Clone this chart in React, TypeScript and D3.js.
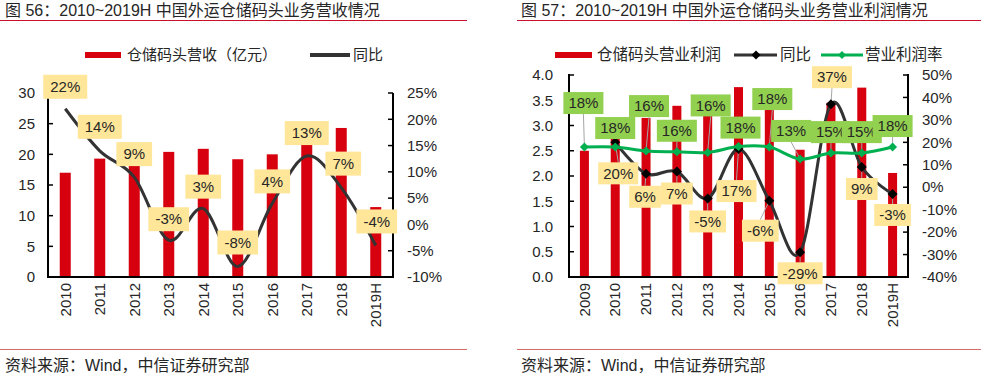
import React from 'react';
import * as d3 from 'd3';

// ---------- data ----------
const leftCats = ['2010', '2011', '2012', '2013', '2014', '2015', '2016', '2017', '2018', '2019H'];
const leftRevenue = [17.0, 19.3, 21.1, 20.4, 20.9, 19.2, 20.0, 22.7, 24.3, 11.4];
const leftYoY = [0.22, 0.14, 0.09, -0.03, 0.03, -0.08, 0.04, 0.13, 0.07, -0.04];
const leftTicksL = [0, 5, 10, 15, 20, 25, 30];
const leftTicksR = [-0.1, -0.05, 0, 0.05, 0.1, 0.15, 0.2, 0.25];

const rightCats = ['2009', '2010', '2011', '2012', '2013', '2014', '2015', '2016', '2017', '2018', '2019H'];
const rightProfit = [2.5, 3.0, 3.15, 3.39, 3.2, 3.76, 3.55, 2.52, 3.45, 3.75, 2.06];
const rightYoY: (number | null)[] = [null, 0.2, 0.06, 0.07, -0.05, 0.17, -0.06, -0.29, 0.37, 0.09, -0.03];
const rightMargin = [0.179, 0.179, 0.161, 0.158, 0.155, 0.181, 0.179, 0.126, 0.152, 0.152, 0.179];
const rightTicksL = [0, 0.5, 1, 1.5, 2, 2.5, 3, 3.5, 4];
const rightTicksR = [-0.4, -0.3, -0.2, -0.1, 0, 0.1, 0.2, 0.3, 0.4, 0.5];

// label placement offsets (layout only)
const leftLabelOff = [[0, -22], [0, -24], [0, -23], [0, -21], [0, -22], [0, -24], [0, -22], [0, -23], [2, -24], [1, -24]];
const greenLabelOff = [[-1, -44], [0, -19], [3, -45], [0, -21], [3, -47], [2, -19], [3, -48], [-9, -28], [0, -21], [0, -21], [0, -21]];
const blackLabelOff = [[0, 0], [3, 31], [-1, 23], [0, 22], [0, 23], [-2, 42], [-9, 30], [0, 21], [1, -27], [0, 22], [0, 21]];

const FONT = "'Liberation Sans', Arial, 'Noto Sans CJK SC', sans-serif";
const RED = '#D7000F';
const YELLOW = '#FFE699';
const GREEN_BOX = '#92D050';
const GREEN = '#00B050';
const TXT = '#262626';

const pctFmt = d3.format('.0%');
const pct = (v: number) => pctFmt(v).replace('\u2212', '-');

function textW(s: string, fs: number) {
  let w = 0;
  for (const c of s) {
    if (c === '%') w += 0.889;
    else if (c === '-') w += 0.333;
    else if (c === '.') w += 0.278;
    else w += 0.556;
  }
  return w * fs;
}

function Label({ x, y, text, fill, fs, pad, h }: any) {
  const w = textW(text, fs) + pad;
  return (
    <g>
      <rect x={x - w / 2} y={y - h / 2} width={w} height={h} fill={fill} />
      <text x={x} y={y} dy="0.35em" textAnchor="middle" fontSize={fs} fill={TXT}>
        {text}
      </text>
    </g>
  );
}

function diamond(cx: number, cy: number, r: number) {
  return `M${cx},${cy - r}L${cx + r},${cy}L${cx},${cy + r}L${cx - r},${cy}Z`;
}

function LeftChart() {
  const x = d3.scaleBand<string>().domain(leftCats).range([48, 393]);
  const yL = d3.scaleLinear().domain([0, 30]).range([277, 93]);
  const yR = d3.scaleLinear().domain([-0.1, 0.25]).range([277, 93]);
  const cx = (c: string) => (x(c) as number) + x.bandwidth() / 2;
  const line = d3
    .line<number>()
    .x((_, i) => cx(leftCats[i]))
    .y((d) => yR(d))
    .curve(d3.curveCatmullRom.alpha(0));
  const barW = 11;
  return (
    <g>
      <text x={5} y={16} fontSize={16} fill={TXT}>图 56：2010~2019H 中国外运仓储码头业务营收情况</text>
      <line x1={0} x2={467} y1={20.5} y2={20.5} stroke="#C8102E" strokeWidth={1} />
      {/* legend */}
      <rect x={85} y={52} width={36} height={6} fill={RED} />
      <text x={127} y={55} dy="0.35em" fontSize={15} fill={TXT}>仓储码头营收（亿元）</text>
      <line x1={310} x2={350} y1={55} y2={55} stroke="#333" strokeWidth={4} />
      <text x={353} y={55} dy="0.35em" fontSize={15} fill={TXT}>同比</text>
      {/* bars */}
      {leftRevenue.map((v, i) => (
        <rect key={i} x={cx(leftCats[i]) - barW / 2} y={yL(v)} width={barW} height={yL(0) - yL(v)} fill={RED} />
      ))}
      {/* line */}
      <path d={line(leftYoY) || ''} fill="none" stroke="#333" strokeWidth={3} />
      {/* axes */}
      <line x1={48} x2={48} y1={93} y2={278} stroke="#000" strokeWidth={2} />
      <line x1={393} x2={393} y1={93} y2={278} stroke="#000" strokeWidth={2} />
      <line x1={47} x2={394} y1={277} y2={277} stroke="#000" strokeWidth={2} />
      {leftTicksL.map((t) => (
        <g key={t}>
          <line x1={48} x2={53} y1={yL(t)} y2={yL(t)} stroke="#000" strokeWidth={1.5} />
          <text x={35} y={yL(t)} dy="0.35em" textAnchor="end" fontSize={15} fill={TXT}>{t}</text>
        </g>
      ))}
      {leftTicksR.map((t) => (
        <g key={t}>
          <line x1={388} x2={393} y1={yR(t)} y2={yR(t)} stroke="#000" strokeWidth={1.5} />
          <text x={407} y={yR(t)} dy="0.35em" fontSize={15} fill={TXT}>{pct(t)}</text>
        </g>
      ))}
      {leftCats.map((c) => (
        <text key={c} transform={`translate(${cx(c)},283) rotate(-90)`} dy="0.35em" textAnchor="end" fontSize={15} fill={TXT}>{c}</text>
      ))}
      {/* labels */}
      {leftYoY.map((v, i) => (
        <Label key={i} x={cx(leftCats[i]) + leftLabelOff[i][0]} y={yR(v) + leftLabelOff[i][1]} text={pct(v)} fill={YELLOW} fs={15} pad={14} h={24} />
      ))}
      {/* source */}
      <line x1={0} x2={467} y1={349.5} y2={349.5} stroke="#D46A6A" strokeWidth={1} />
      <text x={5} y={365} dy="0.35em" fontSize={16} fill={TXT}>资料来源：Wind，中信证券研究部</text>
    </g>
  );
}

function RightChart() {
  const x = d3.scaleBand<string>().domain(rightCats).range([569, 908]);
  const yL = d3.scaleLinear().domain([0, 4]).range([277, 75]);
  const yR = d3.scaleLinear().domain([-0.4, 0.5]).range([277, 75]);
  const cx = (c: string) => (x(c) as number) + x.bandwidth() / 2;
  const curve = d3.curveCatmullRom.alpha(0);
  const yoyLine = d3
    .line<number | null>()
    .defined((d) => d !== null)
    .x((_, i) => cx(rightCats[i]))
    .y((d) => yR(d as number))
    .curve(curve);
  const marginLine = d3
    .line<number>()
    .x((_, i) => cx(rightCats[i]))
    .y((d) => yR(d))
    .curve(curve);
  const barW = 9;
  const leader = (px: number, py: number, lx: number, ly: number, h: number) => {
    const edge = ly < py ? ly + h / 2 : ly - h / 2;
    if (Math.abs(py - edge) < 9) return null;
    return <line x1={lx} y1={edge} x2={px} y2={py} stroke="#A6A6A6" strokeWidth={1} />;
  };
  return (
    <g>
      <text x={521} y={16} fontSize={16} fill={TXT}>图 57：2010~2019H 中国外运仓储码头业务营业利润情况</text>
      <line x1={517} x2={981} y1={20.5} y2={20.5} stroke="#C8102E" strokeWidth={1} />
      {/* legend */}
      <rect x={555} y={52} width={37} height={6} fill={RED} />
      <text x={597} y={55} dy="0.35em" fontSize={15.5} fill={TXT}>仓储码头营业利润</text>
      <line x1={734} x2={777} y1={55} y2={55} stroke="#333" strokeWidth={3} />
      <path d={diamond(756, 55, 4.5)} fill="#000" />
      <text x={780} y={55} dy="0.35em" fontSize={15.5} fill={TXT}>同比</text>
      <line x1={821} x2={863} y1={55} y2={55} stroke={GREEN} strokeWidth={3} />
      <path d={diamond(842, 55, 4)} fill={GREEN} />
      <text x={865} y={55} dy="0.35em" fontSize={15.5} fill={TXT}>营业利润率</text>
      {/* bars */}
      {rightProfit.map((v, i) => (
        <rect key={i} x={cx(rightCats[i]) - barW / 2} y={yL(v)} width={barW} height={yL(0) - yL(v)} fill={RED} />
      ))}
      {/* leader lines */}
      {rightMargin.map((v, i) =>
        <g key={'gl' + i}>{leader(cx(rightCats[i]), yR(v), cx(rightCats[i]) + greenLabelOff[i][0], yR(v) + greenLabelOff[i][1], 22)}</g>
      )}
      {rightYoY.map((v, i) =>
        v === null ? null : <g key={'bl' + i}>{leader(cx(rightCats[i]), yR(v), cx(rightCats[i]) + blackLabelOff[i][0], yR(v) + blackLabelOff[i][1], 22)}</g>
      )}
      {/* lines */}
      <path d={yoyLine(rightYoY) || ''} fill="none" stroke="#333" strokeWidth={3} />
      {rightYoY.map((v, i) => (v === null ? null : <path key={'bd' + i} d={diamond(cx(rightCats[i]), yR(v), 5)} fill="#000" />))}
      <path d={marginLine(rightMargin) || ''} fill="none" stroke={GREEN} strokeWidth={3} />
      {rightMargin.map((v, i) => (
        <path key={'gd' + i} d={diamond(cx(rightCats[i]), yR(v), 4.5)} fill={GREEN} />
      ))}
      {/* axes */}
      <line x1={569} x2={569} y1={74} y2={278} stroke="#000" strokeWidth={2} />
      <line x1={908} x2={908} y1={74} y2={278} stroke="#000" strokeWidth={2} />
      <line x1={568} x2={909} y1={277} y2={277} stroke="#000" strokeWidth={2} />
      {rightTicksL.map((t) => (
        <g key={t}>
          <line x1={569} x2={574} y1={yL(t)} y2={yL(t)} stroke="#000" strokeWidth={1.5} />
          <text x={553} y={yL(t)} dy="0.35em" textAnchor="end" fontSize={15} fill={TXT}>{d3.format('.1f')(t)}</text>
        </g>
      ))}
      {rightTicksR.map((t) => (
        <g key={t}>
          <line x1={903} x2={908} y1={yR(t)} y2={yR(t)} stroke="#000" strokeWidth={1.5} />
          <text x={922} y={yR(t)} dy="0.35em" fontSize={15} fill={TXT}>{pct(t)}</text>
        </g>
      ))}
      {rightCats.map((c) => (
        <text key={c} transform={`translate(${cx(c)},283) rotate(-90)`} dy="0.35em" textAnchor="end" fontSize={15} fill={TXT}>{c}</text>
      ))}
      {/* labels */}
      {rightMargin.map((v, i) => (
        <Label key={'g' + i} x={cx(rightCats[i]) + greenLabelOff[i][0]} y={yR(v) + greenLabelOff[i][1]} text={pct(v)} fill={GREEN_BOX} fs={15} pad={10} h={22} />
      ))}
      {rightYoY.map((v, i) =>
        v === null ? null : (
          <Label key={'b' + i} x={cx(rightCats[i]) + blackLabelOff[i][0]} y={yR(v) + blackLabelOff[i][1]} text={pct(v)} fill={YELLOW} fs={15} pad={10} h={22} />
        )
      )}
      {/* source */}
      <line x1={517} x2={981} y1={349.5} y2={349.5} stroke="#D46A6A" strokeWidth={1} />
      <text x={521} y={365} dy="0.35em" fontSize={16} fill={TXT}>资料来源：Wind，中信证券研究部</text>
    </g>
  );
}

export default function App() {
  return (
    <svg
      width={981}
      height={377}
      style={{ position: 'absolute', left: 0, top: 0, background: '#fff', fontFamily: FONT }}
    >
      <rect x={0} y={0} width={981} height={377} fill="#fff" />
      <LeftChart />
      <RightChart />
    </svg>
  );
}
